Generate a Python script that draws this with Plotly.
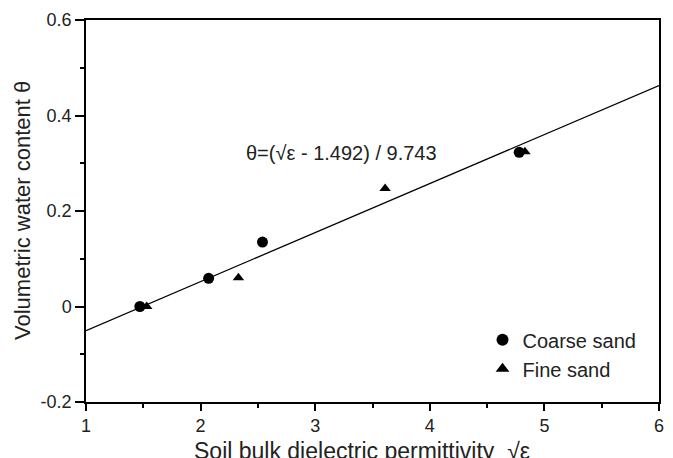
import plotly.graph_objects as go

coarse_x = [1.47, 2.07, 2.54, 4.78]
coarse_y = [0.0, 0.059, 0.135, 0.323]
fine_x = [1.53, 2.33, 3.61, 4.83]
fine_y = [0.0, 0.060, 0.247, 0.324]
fit_offset = 1.492
fit_divisor = 9.743
fit_x = [1, 6]
fit_y = [(v - fit_offset) / fit_divisor for v in fit_x]

x_title = "Soil bulk dielectric permittivity  √ε"
y_title = "Volumetric water content θ"
equation = "θ=(√ε - 1.492) / 9.743"

font = "Liberation Sans, Arial, sans-serif"

fig = go.Figure()
fig.add_trace(go.Scatter(x=fit_x, y=fit_y, mode="lines",
                         line=dict(color="black", width=1.3), showlegend=False))
fig.add_trace(go.Scatter(x=coarse_x, y=coarse_y, mode="markers", name="Coarse sand",
                         marker=dict(symbol="circle", size=11, color="black")))
fig.add_trace(go.Scatter(x=fine_x, y=fine_y, mode="markers", name="Fine sand",
                         marker=dict(symbol="triangle-up", size=10, color="black")))

fig.add_annotation(x=3.23, y=0.321, xref="x", yref="y",
                   text=equation, showarrow=False,
                   font=dict(family=font, size=20, color="#222"))

# axis titles as annotations so they can sit partly outside the margin like the original
fig.add_annotation(x=0.5, y=0, xref="paper", yref="paper", xanchor="center",
                   yanchor="middle", xshift=-11, yshift=-49, text=x_title,
                   showarrow=False, font=dict(family=font, size=23, color="#222"))
fig.add_annotation(x=0, y=0.5, xref="paper", yref="paper", xanchor="center",
                   yanchor="middle", xshift=-64, textangle=-90, text=y_title,
                   showarrow=False, font=dict(family=font, size=22, color="#222"))

axis_common = dict(showgrid=False, zeroline=False, showline=True, linecolor="black",
                   linewidth=1.5, mirror=True, ticks="outside",
                   tickwidth=1.5, tickcolor="black", automargin=False,
                   tickfont=dict(family=font, size=18, color="#222"))

fig.update_xaxes(range=[1, 6], tickvals=[1, 2, 3, 4, 5, 6], ticklen=7,
                 minor=dict(tickvals=[1.5, 2.5, 3.5, 4.5, 5.5], ticks="outside",
                            ticklen=4, tickwidth=1.5, tickcolor="black"),
                 **axis_common)
fig.update_yaxes(range=[-0.2, 0.6], tickvals=[-0.2, 0, 0.2, 0.4, 0.6],
                 ticktext=["-0.2", "0", "0.2", "0.4", "0.6"], ticklen=9,
                 minor=dict(tickvals=[-0.1, 0.1, 0.3, 0.5], ticks="outside",
                            ticklen=4, tickwidth=1.5, tickcolor="black"),
                 **axis_common)

# page body has an 8px default margin, so the figure is offset by 8px
fig.update_layout(
    width=665, height=450,
    margin=dict(l=78, r=14, t=12, b=56),
    plot_bgcolor="white", paper_bgcolor="white",
    legend=dict(x=0.692, y=0.214, xanchor="left", yanchor="top",
                font=dict(family=font, size=20, color="#222"),
                bgcolor="rgba(0,0,0,0)", itemsizing="constant", tracegroupgap=0),
)

fig.write_html("out.html")
